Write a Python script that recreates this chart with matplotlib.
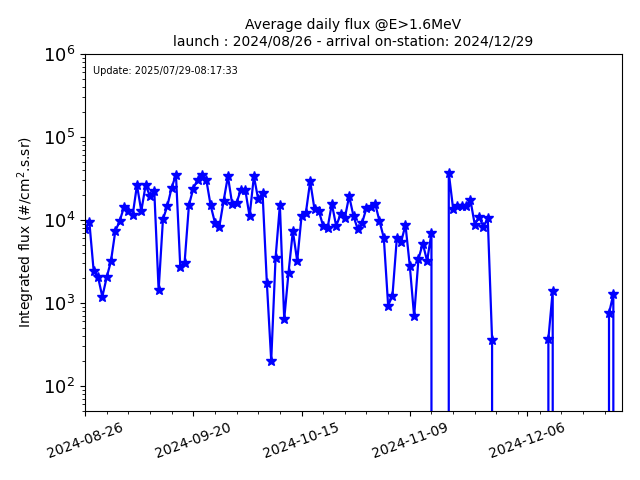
import matplotlib
matplotlib.use("Agg")
import matplotlib.pyplot as plt
import matplotlib.dates as mdates
import pandas as pd

# daily average flux, one value per day starting at launch (0 = no data)
START = "2024-08-26"
flux = [
    7700, 9500, 2440, 2070, 1190, 2030, 3210, 7360, 9700, 14300,
    12800, 11400, 26300, 12800, 26300, 19400, 22200, 1430, 10200, 14700,
    24400, 35200, 2720, 3070, 15100, 23900, 30700, 34600, 30700, 15100,
    9300, 8200, 16900, 33600, 15400, 16100, 23300, 23300, 11100, 33600,
    17700, 21200, 1720, 202, 3460, 15100, 640, 2330, 7360, 3210,
    11100, 12200, 29300, 13400, 12800, 8450, 7940, 15700, 8450, 11700,
    10600, 19400, 11100, 7700, 9270, 14000, 14300, 15700, 9700, 6100,
    930, 1230, 5990, 5460, 8700, 2800, 690, 3400, 5200, 3200,
    7000, 0, 0, 0, 37000, 13700, 14700, 14700, 14700, 17400,
    8800, 10900, 8300, 10500, 360, 0, 0, 0, 0, 0,
    0, 0, 0, 0, 0, 0, 0, 370, 1400, 0,
    0, 0, 0, 0, 0, 0, 0, 0, 0, 0,
    0, 750, 1280, 0, 0,
]
tick_dates = ["2024-08-26", "2024-09-20", "2024-10-15", "2024-11-09", "2024-12-06"]
update_str = "Update: 2025/07/29-08:17:33"

days = pd.date_range(START, periods=len(flux), freq="D")

fig, ax = plt.subplots(figsize=(6.4, 4.8), dpi=100)
fig.subplots_adjust(left=85 / 640, right=622 / 640, top=1 - 54 / 480, bottom=1 - 411 / 480)

ax.plot(days, flux, color="blue", marker="*", markersize=7, linewidth=1.6)
ax.set_yscale("log")
ax.set_ylim(50, 1e6)
ax.set_xlim(days[0], days[-1])

ax.set_xticks(pd.to_datetime(tick_dates))
ax.set_xticks(days[::5], minor=True)
ax.xaxis.set_major_formatter(mdates.DateFormatter("%Y-%m-%d"))
plt.setp(ax.get_xticklabels(), rotation=20, fontsize=10)
ax.tick_params(axis="y", which="major", labelsize=13)

ax.set_ylabel("Integrated flux (#/cm$^2$.s.sr)", fontsize=10)
ax.set_title("Average daily flux @E>1.6MeV\nlaunch : 2024/08/26 - arrival on-station: 2024/12/29",
             fontsize=10)
ax.text(0.015, 0.965, update_str, transform=ax.transAxes, fontsize=7, va="top", ha="left")

plt.savefig("out.png", dpi=100)
